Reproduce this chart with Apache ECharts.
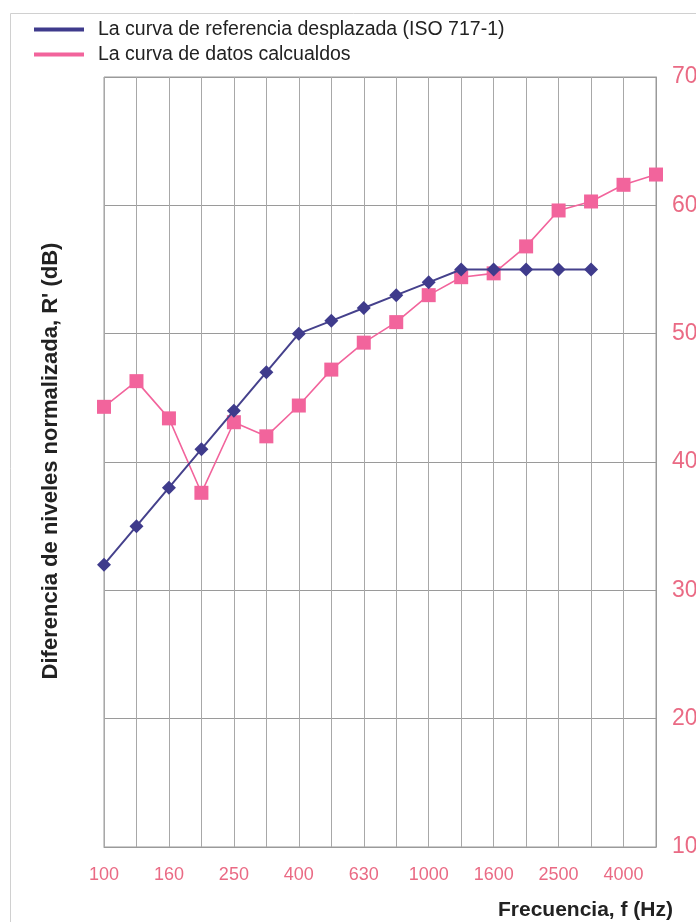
<!DOCTYPE html>
<html>
<head>
<meta charset="utf-8">
<script src="https://cdn.jsdelivr.net/npm/echarts@6/dist/echarts.min.js"></script>
<style>
  html, body { margin: 0; padding: 0; background: #fff; }
  #chart { width: 696px; height: 922px; }
</style>
</head>
<body>
<div id="chart"></div>
<script>
// Third-octave band centre frequencies (Hz)
const frequencies = ['100', '125', '160', '200', '250', '315', '400', '500', '630',
  '800', '1000', '1250', '1600', '2000', '2500', '3150', '4000', '5000'];

// Shifted ISO 717-1 reference curve (dB), 100–3150 Hz
const referenceCurve = [32, 35, 38, 41, 44, 47, 50, 51, 52, 53, 54, 55, 55, 55, 55, 55];

// Calculated R' values (dB)
const calculatedCurve = [44.3, 46.3, 43.4, 37.6, 43.1, 42.0, 44.4, 47.2, 49.3,
  50.9, 53.0, 54.4, 54.7, 56.8, 59.6, 60.3, 61.6, 62.4];

const seriesNames = [
  'La curva de referencia desplazada (ISO 717-1)',
  'La curva de datos calcualdos'
];

const yTicks = { min: 10, max: 70, step: 10 };

const pink = '#ea6a84';
const font = 'Liberation Sans, Arial, sans-serif';

const chart = echarts.init(document.getElementById('chart'), null, { renderer: 'canvas' });

chart.setOption({
  animation: false,
  backgroundColor: '#fff',
  grid: {
    left: 104, right: 40, top: 77, bottom: 75,
    containLabel: false,
    outerBoundsMode: 'none',
    show: true, borderColor: '#9a9a9a', borderWidth: 1
  },
  legend: {
    orient: 'vertical',
    left: 29, top: 12,
    icon: 'rect',
    itemWidth: 50, itemHeight: 4,
    itemGap: 0,
    textStyle: { fontFamily: font, fontSize: 19.5, color: '#222', lineHeight: 22, padding: [3, 0, 0, 9] },
    data: seriesNames
  },
  xAxis: {
    type: 'category',
    data: frequencies,
    boundaryGap: false,
    axisLine: { show: true, lineStyle: { color: '#9a9a9a', width: 1 } },
    axisTick: { show: false },
    axisLabel: { interval: 1, color: pink, fontFamily: font, fontSize: 18, margin: 19 },
    splitLine: { show: true, interval: 0, lineStyle: { color: '#a8a8a8', width: 1 } }
  },
  yAxis: {
    type: 'value',
    position: 'right',
    min: yTicks.min, max: yTicks.max, interval: yTicks.step,
    axisLine: { show: true, lineStyle: { color: '#9a9a9a', width: 1 } },
    axisTick: { show: false },
    axisLabel: { color: pink, fontFamily: font, fontSize: 23, margin: 16 },
    splitLine: { show: true, lineStyle: { color: '#9a9a9a', width: 1 } }
  },
  graphic: [
    {
      type: 'rect', silent: true, z: -1,
      shape: { x: 10.5, y: 13.5, width: 720, height: 940 },
      style: { fill: 'none', stroke: '#d0d0d0', lineWidth: 1 }
    },
    {
      type: 'text',
      x: 51, y: 461, rotation: Math.PI / 2,
      style: {
        text: "Diferencia de niveles normalizada, R' (dB)",
        font: 'bold 22px ' + font, fill: '#222',
        align: 'center', verticalAlign: 'middle'
      }
    },
    {
      type: 'text',
      x: 673, y: 910,
      style: {
        text: 'Frecuencia, f (Hz)',
        font: 'bold 21px ' + font, fill: '#222',
        align: 'right', verticalAlign: 'middle'
      }
    }
  ],
  series: [
    {
      name: seriesNames[0],
      type: 'line',
      data: referenceCurve,
      color: '#45418c',
      symbol: 'diamond', symbolSize: 14,
      lineStyle: { width: 2, color: '#45418c' },
      itemStyle: { color: '#3f3b8c' },
      z: 3
    },
    {
      name: seriesNames[1],
      type: 'line',
      data: calculatedCurve,
      color: '#f2649c',
      symbol: 'rect', symbolSize: 14,
      lineStyle: { width: 1.6, color: '#f2649c' },
      itemStyle: { color: '#f2649c' },
      z: 2
    }
  ]
});
</script>
</body>
</html>
